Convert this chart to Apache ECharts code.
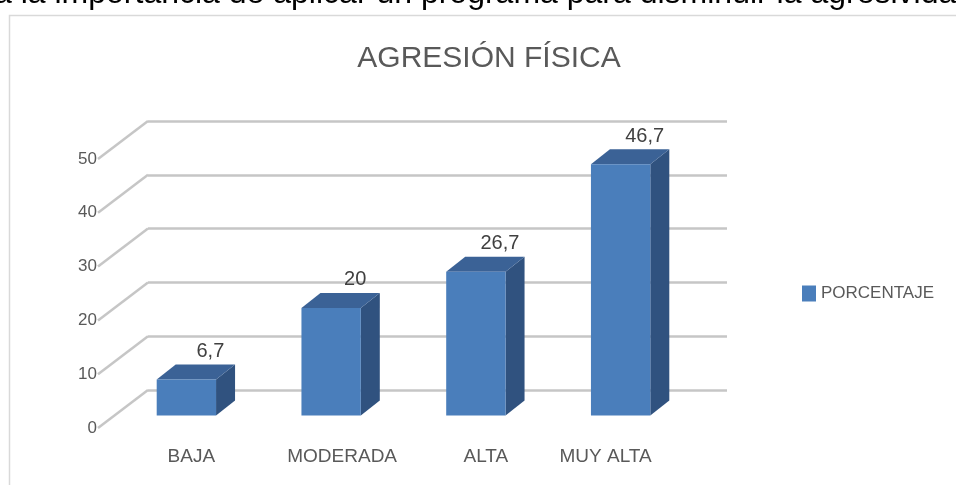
<!DOCTYPE html>
<html>
<head>
<meta charset="utf-8">
<script src="https://cdn.jsdelivr.net/npm/echarts@6/dist/echarts.min.js"></script>
<style>
  html, body { margin: 0; padding: 0; background: #ffffff; }
  #chart { width: 956px; height: 485px; }
</style>
</head>
<body>
<div id="chart"></div>
<script>
const headerText = 'a la importancia de aplicar un programa para disminuir la agresividad';
const titleText = 'AGRESIÓN FÍSICA';
const seriesName = 'PORCENTAJE';
const categories = ['BAJA', 'MODERADA', 'ALTA', 'MUY ALTA'];
const porcentaje = [6.7, 20, 26.7, 46.7];
const yTicks = [0, 10, 20, 30, 40, 50];

const FONT = 'Liberation Sans, Arial, sans-serif';
const TEXT_GRAY = '#595959';
const GRID_GRAY = '#c6c6c6';
const FRONT = '#4a7ebb', TOP = '#3b6296', SIDE = '#30527f';
// 3D geometry (pixels)
const WALL_DX = -50, WALL_DY = 38;     // back wall -> front edge
const BAR_DX = -34, BAR_DY = 25.5;     // back wall -> bar front face
const DEPTH_DX = 19, DEPTH_DY = -15;   // bar front face -> bar back face
const labelShift = [58, 46, 48, 98];   // right padding used to nudge category labels

const fmt = v => String(v).replace('.', ',');

const rich = {};
categories.forEach((c, i) => {
  rich['c' + i] = { fontFamily: FONT, fontSize: 19, color: TEXT_GRAY, padding: [0, labelShift[i], 0, 0] };
});

const chart = echarts.init(document.getElementById('chart'), null, { renderer: 'canvas' });
chart.setOption({
  animation: false,
  backgroundColor: '#ffffff',
  title: {
    text: titleText,
    left: 484, top: 39, textAlign: 'center',
    textStyle: { fontFamily: FONT, fontSize: 30, fontWeight: 'normal', color: TEXT_GRAY }
  },
  legend: {
    data: [{ name: seriesName, icon: 'rect' }],
    left: 797, top: 280, itemWidth: 14, itemHeight: 16,
    textStyle: { fontFamily: FONT, fontSize: 17, color: TEXT_GRAY }
  },
  graphic: [
    { type: 'rect', shape: { x: 9.5, y: 15.5, width: 980, height: 500 }, style: { fill: 'none', stroke: '#d9d9d9', lineWidth: 1.5 }, z: -1, silent: true },
    { type: 'text', x: -6, y: -6, style: { text: headerText, font: '32px Liberation Sans, Arial, sans-serif', fill: '#000000', verticalAlign: 'middle' }, silent: true }
  ],
  grid: [
    { left: 148, right: 229, top: 121, bottom: 95 },
    { left: 98, right: 279, top: 159, bottom: 57 }
  ],
  xAxis: [
    {
      gridIndex: 0, type: 'category', data: categories,
      axisLine: { show: false }, axisTick: { show: false },
      axisLabel: { interval: 0, margin: 57, formatter: (v, i) => '{c' + i + '|' + v + '}', rich: rich }
    },
    { gridIndex: 1, type: 'category', data: categories, show: false }
  ],
  yAxis: [
    {
      gridIndex: 0, type: 'value', min: 0, max: 50, interval: 10,
      axisLine: { show: false }, axisTick: { show: false }, axisLabel: { show: false },
      splitLine: { lineStyle: { color: GRID_GRAY, width: 2.5 } }
    },
    {
      gridIndex: 1, type: 'value', min: 0, max: 50, interval: 10,
      axisLine: { show: false }, axisTick: { show: false },
      splitLine: { show: false },
      axisLabel: { margin: 1, fontFamily: FONT, fontSize: 17, color: TEXT_GRAY }
    }
  ],
  series: [
    {
      type: 'custom', xAxisIndex: 0, yAxisIndex: 0, silent: true,
      data: yTicks.map(v => [0, v]),
      renderItem: (params, api) => {
        const y = api.coord([0, api.value(1)])[1];
        const x0 = params.coordSys.x;
        return {
          type: 'line',
          shape: { x1: x0, y1: y, x2: x0 + WALL_DX, y2: y + WALL_DY },
          style: { stroke: GRID_GRAY, lineWidth: 2.5 }
        };
      }
    },
    {
      name: seriesName, type: 'custom', xAxisIndex: 0, yAxisIndex: 0,
      itemStyle: { color: FRONT },
      data: porcentaje.map((v, i) => [i, v]),
      renderItem: (params, api) => {
        const i = api.value(0), v = api.value(1);
        const base = api.coord([i, 0]);
        const top = api.coord([i, v]);
        const bw = api.size([1, 0])[0] * 0.41;
        const fl = base[0] + BAR_DX - bw / 2, fr = fl + bw;
        const fb = base[1] + BAR_DY, ft = top[1] + BAR_DY;
        return {
          type: 'group',
          children: [
            { type: 'polygon', shape: { points: [[fr, ft], [fr + DEPTH_DX, ft + DEPTH_DY], [fr + DEPTH_DX, fb + DEPTH_DY], [fr, fb]] }, style: { fill: SIDE } },
            { type: 'polygon', shape: { points: [[fl, ft], [fl + DEPTH_DX, ft + DEPTH_DY], [fr + DEPTH_DX, ft + DEPTH_DY], [fr, ft]] }, style: { fill: TOP } },
            { type: 'rect', shape: { x: fl, y: ft, width: bw, height: fb - ft }, style: { fill: FRONT } },
            { type: 'text', x: fl + bw / 2 + DEPTH_DX + 5, y: ft + DEPTH_DY - 13,
              style: { text: fmt(v), fill: '#404040', font: '20px Liberation Sans, Arial, sans-serif', align: 'center', verticalAlign: 'middle' } }
          ]
        };
      }
    }
  ]
});
</script>
</body>
</html>
